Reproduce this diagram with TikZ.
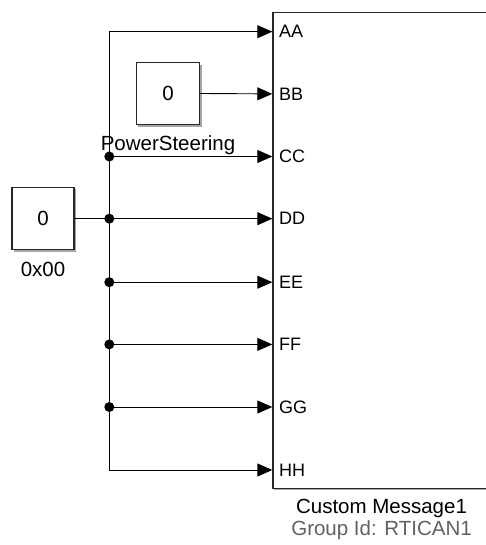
\documentclass[tikz,border=0pt]{standalone}
\usepackage{fontspec}
\setmainfont{Liberation Sans}
\usetikzlibrary{arrows.meta}
\begin{document}
\begin{tikzpicture}[x=1pt,y=-1pt,
  blk/.style={draw=black!85,line width=1.3pt,fill=white,minimum width=62pt,minimum height=62pt,inner sep=0pt,font=\fontsize{20.5}{24}\selectfont},
  shadow/.style={fill=black!35,draw=none},
  sig/.style={line width=0.9pt,-{Triangle[length=15pt,width=13pt]}},
  wire/.style={line width=0.9pt},
  jdot/.style={circle,fill=black,inner sep=0pt,minimum size=10pt},
  lbl/.style={font=\fontsize{20.5}{24}\selectfont,inner sep=0pt,anchor=base},
  portlbl/.style={font=\fontsize{18}{20}\selectfont,anchor=west,inner sep=0pt}]
\useasboundingbox (0,0) rectangle (485,545);
% shadows
\fill[shadow] (14,189.5) rectangle (76,252);
\fill[shadow] (138,65) rectangle (201.5,127);
\fill[shadow] (274,14) rectangle (490,489.5);
% blocks
\node[blk,anchor=north west,minimum width=216pt,minimum height=475.5pt] (msg) at (272.3,12) {};
\node[blk] (c0) at (43,218.7) {0};
\node[blk,minimum width=63pt] (ps) at (168,93.5) {0};
% port coordinates
\coordinate (pA) at (272.3,31.7);
\coordinate (pB) at (272.3,93.9);
\coordinate (pC) at (272.3,156.5);
\coordinate (pD) at (272.3,218.7);
\coordinate (pE) at (272.3,282.2);
\coordinate (pF) at (272.3,344.4);
\coordinate (pG) at (272.3,407.0);
\coordinate (pH) at (272.3,470.0);
% bus
\coordinate (jA) at (109.3,31.7);
\coordinate (jH) at (109.3,470.0);
\draw[wire] (jA) -- (jH);
\node[jdot] (jC) at (109.3,156.5) {};
\node[jdot] (jD) at (109.3,218.7) {};
\node[jdot] (jE) at (109.3,282.2) {};
\node[jdot] (jF) at (109.3,344.4) {};
\node[jdot] (jG) at (109.3,407.0) {};
% connectors
\draw[wire] (c0.east) -- (jD.center);
\draw[sig] (jA) -- (pA);
\draw[sig] (ps.east) -- (pB);
\draw[sig] (jC.center) -- (pC);
\draw[sig] (jD.center) -- (pD);
\draw[sig] (jE.center) -- (pE);
\draw[sig] (jF.center) -- (pF);
\draw[sig] (jG.center) -- (pG);
\draw[sig] (jH) -- (pH);
% port labels
\node[portlbl] (lA) at (279,31.7) {AA};
\node[portlbl] (lB) at (279,93.9) {BB};
\node[portlbl] (lC) at (279,156.5) {CC};
\node[portlbl] (lD) at (279,218.7) {DD};
\node[portlbl] (lE) at (279,282.2) {EE};
\node[portlbl] (lF) at (279,344.4) {FF};
\node[portlbl] (lG) at (279,407.0) {GG};
\node[portlbl] (lH) at (279,470.0) {HH};
% block labels
\node[lbl] (tps) at (168,151) {PowerSteering};
\node[lbl] (tc0) at (43,276) {0x00};
\node[lbl] (tmsg) at (381.5,513) {Custom Message1};
\node[lbl,text=black!62] (tgrp) at (381.5,535.5) {Group Id: RTICAN1};
\end{tikzpicture}
\end{document}
